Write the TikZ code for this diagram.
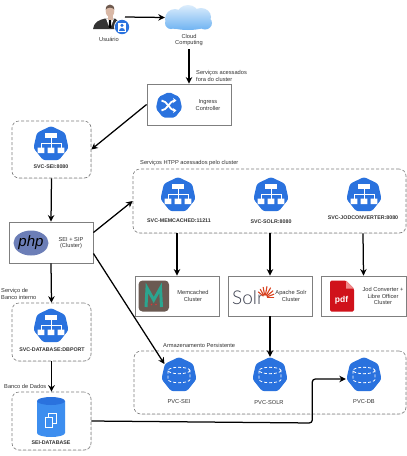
\documentclass[tikz,border=0pt]{standalone}
\usepackage{fontspec}
\setmainfont{Liberation Sans}
\newfontfamily\lato{Lato Light}
\usetikzlibrary{arrows.meta,shapes.geometric,shadows,calc}
\definecolor{kblue}{HTML}{2A72DE}
\definecolor{txt}{HTML}{333333}
\definecolor{edgeg}{HTML}{7F7F7F}
\definecolor{skin}{HTML}{D9B8A6}
\definecolor{hair}{HTML}{6E5A4E}
\definecolor{cloudtop}{HTML}{DCEDFC}
\definecolor{cloudbot}{HTML}{6FB3F2}
\definecolor{phpblue}{HTML}{6C7EB7}
\definecolor{dbblue}{HTML}{3D8EEF}
\definecolor{membrown}{HTML}{6B5A52}
\definecolor{memteal}{HTML}{2BA58F}
\definecolor{memred}{HTML}{D13B3B}
\definecolor{solrink}{HTML}{3D4150}
\definecolor{solrorange}{HTML}{D9411E}
\definecolor{pdfred}{HTML}{D0121B}
\definecolor{pdffold}{HTML}{F08A8A}
\newcommand\hep[1]{\fill[kblue,rounded corners=#1*0.14pt] (-90:#1) -- (-38.57:#1) -- (12.86:#1) -- (64.29:#1) -- (115.71:#1) -- (167.14:#1) -- (218.57:#1) -- cycle;}
\tikzset{
  x=1pt,y=-1pt,
  lbl/.style={font=\fontsize{5.7}{6.2}\selectfont,text=txt,inner sep=0pt,align=center},
  blbl/.style={lbl,font=\fontsize{5.3}{6.2}\selectfont\bfseries},
  llbl/.style={lbl,align=left,anchor=west},
  box/.style={draw=edgeg,line width=.9pt,fill=white,inner sep=0pt,
    drop shadow={shadow xshift=.8pt,shadow yshift=-.8pt,fill=gray,opacity=.6}},
  group/.style={draw=edgeg,line width=.6pt,densely dashed,rounded corners=7pt,inner sep=0pt,
    drop shadow={shadow xshift=.5pt,shadow yshift=-.5pt,fill=gray!60,opacity=.35},fill=white},
  conn/.style={draw=black,line width=1.25pt,-{Stealth[length=6.5pt,width=6.5pt]}},
  anchorpt/.style={circle,inner sep=0pt,minimum size=36pt},
  svcicon/.pic={
    \hep{18}
    \fill[white] (-6,-11) rectangle (6,-6);
    \draw[white,line width=.7pt] (0,-6) -- (0,3.5) (-10,3.5) -- (-10,-1) -- (10,-1) -- (10,3.5);
    \fill[white] (-13.3,3.5) rectangle (-6.7,9) (-3.3,3.5) rectangle (3.3,9) (6.7,3.5) rectangle (13.3,9);
  },
  pvcicon/.pic={
    \hep{18}
    \draw[white,line width=.8pt,densely dashed] (0,-4.5) ellipse [x radius=11,y radius=3.2];
    \draw[white,line width=.8pt,densely dashed] (-11,-4.5) -- (-11,4.5) arc[start angle=180,end angle=0,x radius=11,y radius=3.2] -- (11,-4.5);
  },
  ingicon/.pic={
    \hep{13.5}
    \draw[white,line width=1.8pt,-{Stealth[length=3.5pt,width=5pt]}] (-7.5,-5) .. controls (-2,-5) and (1,5) .. (7.5,5);
    \draw[white,line width=1.8pt,-{Stealth[length=3.5pt,width=5pt]}] (-7.5,5) .. controls (-2,5) and (1,-5) .. (7.5,-5);
  }
}
\begin{document}
\begin{tikzpicture}
\useasboundingbox (0,0) rectangle (407,456);
\fill[white] (0,0) rectangle (407,456);

% groups
\node[group,minimum width=273pt,minimum height=64pt] (httpgroup) at (269.5,201) {};
\node[group,minimum width=272pt,minimum height=63pt] (pvcgroup) at (270,382.5) {};
\node[group,minimum width=79pt,minimum height=57pt] (svcsei) at (51.5,149.5) {};
\node[group,minimum width=79pt,minimum height=58pt] (svcdb) at (51.5,332) {};
\node[group,minimum width=79pt,minimum height=58pt] (seidb) at (51.5,421) {};

% boxes
\node[box,minimum width=84pt,minimum height=41pt] (ingress) at (189,104.5) {};
\node[box,minimum width=84pt,minimum height=41pt] (php) at (51,242.5) {};
\node[box,minimum width=84pt,minimum height=40pt] (memc) at (177,296) {};
\node[box,minimum width=84pt,minimum height=40pt] (solr) at (270,296) {};
\node[box,minimum width=85pt,minimum height=40pt] (jod) at (363.5,296) {};

% user
\fill[black!80] (93,29) .. controls (94,22) and (99,20) .. (105,18.5) -- (115,18.5) .. controls (118,20) and (120,22) .. (121,29) -- cycle;
\fill[white] (106,18.5) -- (114,18.5) -- (110,29) -- cycle;
\fill[black] (109,20) -- (111,20) -- (111.3,27) -- (110,29) -- (108.7,27) -- cycle;
\fill[skin] (110,11) ellipse [x radius=4.3,y radius=6.2];
\fill[skin] (107.5,14) rectangle (112.5,19.5);
\fill[hair] (105.7,9.5) .. controls (105.5,3) and (114.5,3) .. (114.3,9.5) .. controls (112,7) and (108,7) .. (105.7,9.5) -- cycle;
\fill[white] (122,27) circle (8);
\fill[kblue] (122,27) circle (7.2);
\fill[white] (118,22.5) rectangle (126,31.5);
\fill[kblue] (122,25.3) circle (1.7);
\fill[kblue] (119.2,30.5) .. controls (119.2,27) and (124.8,27) .. (124.8,30.5) -- cycle;
\coordinate (user) at (125,17);
\node[lbl] at (109,39) {Usuário};

% cloud
\shade[top color=cloudtop,bottom color=cloudbot]
  (175,19) ellipse [x radius=10,y radius=10]
  (188,15) ellipse [x radius=11,y radius=10]
  (201,17) ellipse [x radius=10,y radius=9]
  (205,23) ellipse [x radius=7,y radius=6.5]
  (188,23) ellipse [x radius=22,y radius=7]
  (171,23) ellipse [x radius=6,y radius=6];
\node[inner sep=0pt,minimum width=47pt,minimum height=25pt] (cloud) at (188.5,17.5) {};
\node[lbl,minimum height=14pt] (cloudlabel) at (189,40) {Cloud\\Computing};

% icons
\pic at (169,105.5) {ingicon};
\pic at (51,144) {svcicon};
\pic at (178,195) {svcicon};
\pic at (271,195) {svcicon};
\pic at (364,195) {svcicon};
\pic at (51,326) {svcicon};
\pic at (179,375) {pvcicon};
\pic at (270,375) {pvcicon};
\pic at (364,375) {pvcicon};
\node[anchorpt] (pvcsei) at (179,375) {};
\node[anchorpt] (pvcsolr) at (270,375) {};
\node[anchorpt] (pvcdb) at (364,375) {};

% php logo
\fill[phpblue] (31,243) ellipse [x radius=17.5,y radius=12.5];
\node[inner sep=0pt,text=black,font=\fontsize{15}{15}\selectfont\itshape] at (31,242.5) {php};

% database
\fill[dbblue] (37,401) -- (37,433) arc[start angle=180,end angle=0,x radius=14,y radius=4] -- (65,401) -- cycle;
\fill[kblue] (51,401) ellipse [x radius=14,y radius=4];
\fill[white] (47.5,413) rectangle (57,424);
\fill[dbblue] (48.5,414) rectangle (56,423);
\fill[white] (44.5,417) rectangle (53,427.5);
\fill[dbblue] (45.5,418) rectangle (52,426.5);

% memcached logo
\fill[membrown,rounded corners=4pt] (138.5,280.5) rectangle (169,311.5);
\draw[memteal,line width=3pt,line join=miter] (146,307) -- (147,288) -- (153.7,300) -- (160.5,288) -- (161.5,307);
\fill[memred] (151.5,304.5) circle (.8) (156,304.5) circle (.8);

% solr logo
\node[inner sep=0pt,text=solrink,font=\lato\fontsize{19}{19}\selectfont] at (248,298) {Solr};
\foreach \a in {-140,-120,-100,-80,-60,-40,-20,0}{
  \draw[solrorange,line width=1.1pt,line cap=round] (265,297.5) ++(\a:2.5) -- ++(\a:{9-abs(\a+70)/25});
}

% pdf
\fill[pdfred,rounded corners=1.5pt] (330,280.5) -- (346,280.5) -- (354,288.5) -- (354,311.5) -- (330,311.5) -- cycle;
\fill[pdffold] (346,280.5) -- (354,288.5) -- (346,288.5) -- cycle;
\node[inner sep=0pt,text=white,font=\fontsize{8.5}{8.5}\selectfont\bfseries] at (341.5,300) {pdf};

% labels
\node[llbl] at (196,76) {Serviços acessados\\fora do cluster};
\node[lbl] at (208,105) {Ingress\\Controller};
\node[blbl] at (51,167) {SVC-SEI:8080};
\node[llbl] at (140,163) {Serviços HTPP acessados pelo cluster};
\node[blbl] at (179,221) {SVC-MEMCACHED:11211};
\node[blbl] at (271,221.5) {SVC-SOLR:8080};
\node[blbl] at (363,218) {SVC-JODCONVERTER:8080};
\node[lbl] at (71,243) {SEI + SIP\\(Cluster)};
\node[lbl] at (193,296) {Memcached\\Cluster};
\node[lbl] at (291,296) {Apache Solr\\Cluster};
\node[lbl] at (383,296) {Jod Converter +\\Libre Officer\\Cluster};
\node[llbl] at (1,294) {Serviço de\\Banco interno};
\node[blbl] at (52,350) {SVC-DATABASE:DBPORT};
\node[llbl] at (4,386) {Banco de Dados};
\node[blbl] at (51,443) {SEI-DATABASE};
\node[llbl] at (163,345) {Armazenamento Persistente};
\node[lbl] at (179,402) {PVC-SEI};
\node[lbl] at (269,403) {PVC-SOLR};
\node[lbl] at (364,402) {PVC-DB};

% connectors
\draw[conn] (user) -- (cloud.west);
\draw[conn] ([yshift=-2pt]cloudlabel.south) -- (ingress.north);
\draw[conn] (ingress.west) -- (svcsei.east);
\draw[conn] (svcsei.south) -- (php.north);
\draw[conn] ([yshift=10pt]php.east) -- (httpgroup.west);
\draw[conn] ([yshift=-11pt]php.east) -- (pvcsei.143);
\draw[conn] (php.south) -- (svcdb.north);
\draw[conn] (svcdb.south) -- (seidb.north);
\draw[conn] ([xshift=-92.5pt]httpgroup.south) -- (memc.north);
\draw[conn] ([xshift=.5pt]httpgroup.south) -- (solr.north);
\draw[conn] ([xshift=93.5pt]httpgroup.south) -- (jod.north);
\draw[conn] (solr.south) -- (pvcsolr.north);
\draw[conn,rounded corners=3pt] (seidb.east) -- ++(221,2) -- ++(0,-44) -- ([yshift=-4pt]pvcdb.west);
\end{tikzpicture}
\end{document}
